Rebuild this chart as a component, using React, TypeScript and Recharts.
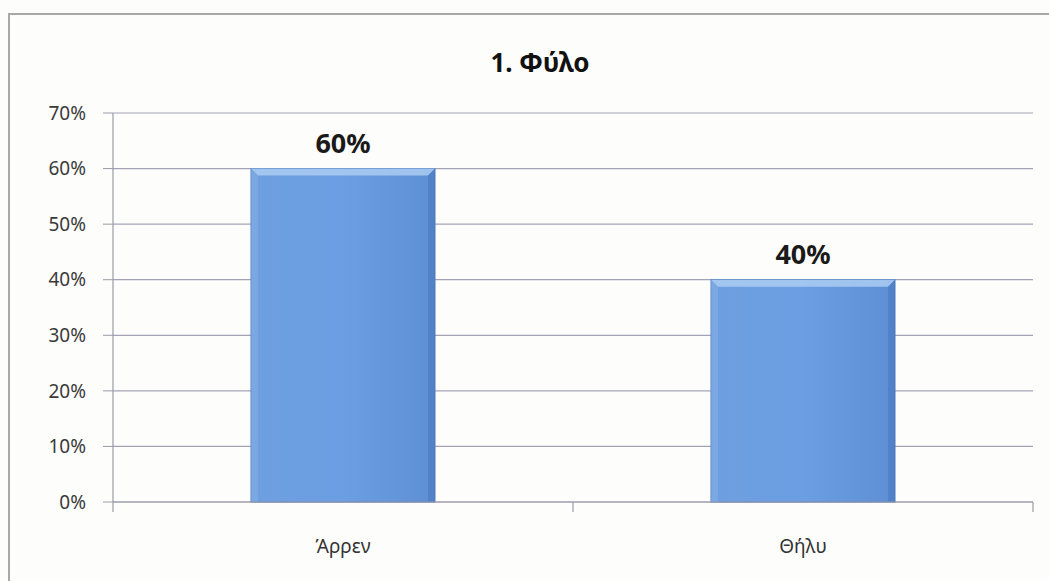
import React from "react";
import {
  Bar,
  BarChart,
  CartesianGrid,
  LabelList,
  XAxis,
  YAxis,
} from "recharts";

/* Gender split of respondents */
const categories = ["Άρρεν", "Θήλυ"];
const shares = [60, 40];
const yTicks = [0, 10, 20, 30, 40, 50, 60, 70];

const data = categories.map((name, i) => ({ name, value: shares[i] }));

const FONT = "'Noto Sans', 'Open Sans', sans-serif";
const AXIS = "#9a9aa8";
const X_TICK_SIZE = 8;
const X_TICK_MARGIN = 30;

// bevelled blue bar, the way the old office charts draw it
const BevelBar = (props: any) => {
  const { x, y, width, height } = props;
  if (!height || height <= 0) return null;
  const b = 7;
  return (
    <g>
      <rect x={x} y={y} width={width} height={height} fill="url(#barBody)" stroke="#4d7fc4" strokeWidth={1} />
      <polygon
        points={`${x},${y} ${x + width},${y} ${x + width - b},${y + b} ${x + b},${y + b}`}
        fill="#acccf2"
        opacity={0.85}
      />
      <polygon
        points={`${x},${y} ${x + b},${y + b} ${x + b},${y + height} ${x},${y + height}`}
        fill="#8ab2e6"
        opacity={0.5}
      />
      <polygon
        points={`${x + width},${y} ${x + width - b},${y + b} ${x + width - b},${y + height} ${x + width},${y + height}`}
        fill="#3f6fb5"
        opacity={0.4}
      />
    </g>
  );
};

// category label plus Excel-style tick marks on the band edges
const CategoryTick = (props: any) => {
  const { x, y, payload, index, width, visibleTicksCount } = props;
  const half =
    payload?.offset ?? (width && visibleTicksCount ? width / visibleTicksCount / 2 : 0);
  const axisY = y - X_TICK_SIZE - X_TICK_MARGIN;
  return (
    <g>
      {index === 0 && (
        <line x1={x - half} x2={x - half} y1={axisY} y2={axisY + 10} stroke={AXIS} strokeWidth={1.2} />
      )}
      <line x1={x + half} x2={x + half} y1={axisY} y2={axisY + 10} stroke={AXIS} strokeWidth={1.2} />
      <text
        x={x}
        y={y}
        dy="0.71em"
        textAnchor="middle"
        fill="#333"
        fontSize={19}
        fontFamily={FONT}
      >
        {payload.value}
      </text>
    </g>
  );
};

export default function App() {
  return (
    <div
      style={{
        position: "fixed",
        left: 0,
        top: 0,
        width: 1049,
        height: 581,
        background: "#fdfdfb",
        overflow: "hidden",
      }}
    >
      <div
        style={{
          position: "absolute",
          left: 8,
          top: 13,
          width: 1100,
          height: 620,
          borderLeft: "2px solid #a8a8a8",
          borderTop: "2px solid #a8a8a8",
        }}
      />
      <div
        style={{
          position: "absolute",
          left: 0,
          top: 44,
          width: 1080,
          textAlign: "center",
          fontFamily: FONT,
          fontWeight: 700,
          fontSize: 26,
          color: "#111",
        }}
      >
        1. Φύλο
      </div>
      <div style={{ position: "absolute", left: 0, top: 0 }}>
        <BarChart
          width={1049}
          height={581}
          data={data}
          margin={{ top: 113, right: 16, left: 0, bottom: 0 }}
          barCategoryGap="30%"
        >
          <defs>
            <linearGradient id="barBody" x1="0" y1="0" x2="1" y2="0">
              <stop offset="0%" stopColor="#6d9fe0" />
              <stop offset="50%" stopColor="#6b9ee2" />
              <stop offset="100%" stopColor="#5e8fd5" />
            </linearGradient>
          </defs>
          <CartesianGrid vertical={false} stroke="#a3a3b8" strokeWidth={1.2} />
          <XAxis
            dataKey="name"
            height={79}
            interval={0}
            axisLine={{ stroke: AXIS, strokeWidth: 1.2 }}
            tickLine={false}
            tickSize={X_TICK_SIZE}
            tickMargin={X_TICK_MARGIN}
            tick={<CategoryTick />}
          />
          <YAxis
            width={113}
            domain={[0, 70]}
            ticks={yTicks}
            tickFormatter={(v) => `${v}%`}
            tickSize={10}
            tickMargin={17}
            axisLine={{ stroke: AXIS, strokeWidth: 1.2 }}
            tickLine={{ stroke: AXIS }}
            tick={{ fill: "#3a3a3a", fontSize: 19, fontFamily: FONT }}
          />
          <Bar dataKey="value" shape={BevelBar} isAnimationActive={false}>
            <LabelList
              dataKey="value"
              position="top"
              offset={16}
              formatter={(v: any) => `${v}%`}
              style={{
                fill: "#1a1a1a",
                fontSize: 27,
                fontWeight: 700,
                fontFamily: FONT,
              }}
            />
          </Bar>
        </BarChart>
      </div>
    </div>
  );
}
